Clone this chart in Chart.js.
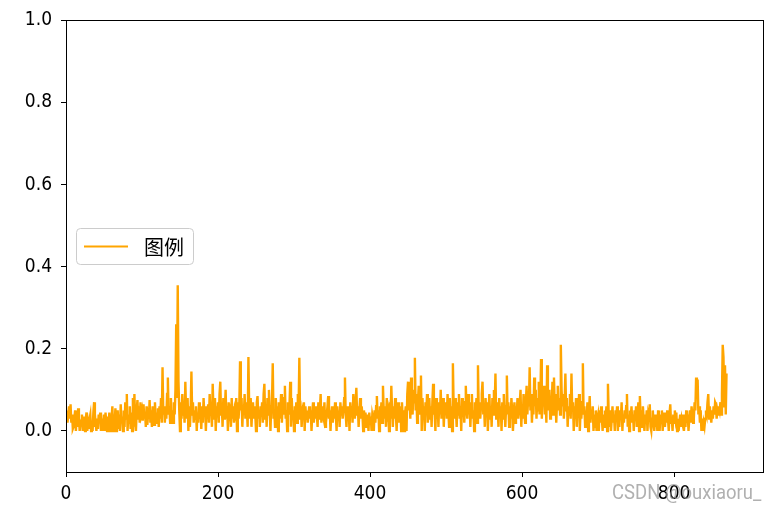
<!DOCTYPE html>
<html>
<head>
<meta charset="utf-8">
<script src="https://cdn.jsdelivr.net/npm/chart.js@4.4.1/dist/chart.umd.min.js"></script>
<style>
    body { margin: 0; background: #fff; }
    #wrap { position: relative; width: 782px; height: 512px; }
    #mark {
        position: absolute; left: 612px; top: 480px;
        font: 21px Roboto, sans-serif;
        color: rgba(150, 150, 150, 0.75); white-space: nowrap;
        transform: scaleX(0.88); transform-origin: left top;
    }
</style>
</head>
<body>
<div id="wrap">
    <canvas id="chart"></canvas>
    <div id="mark">CSDN @ouxiaoru_</div>
</div>
<script>
// series (index = x)
var legendLabel = '图例';
var lineColor = '#FFA500';
var xTicks = [0, 200, 400, 600, 800];
var yTicks = [0, 0.2, 0.4, 0.6, 0.8, 1.0];
var values = [
    .03,.05,.02,.04,.06,.03,.065,.02,.04,.005,
    .01,.03,.05,.00,.04,.01,.055,.03,.00,.02,
    .015,.04,.00,.035,.02,.00,.03,.045,.00,.02,
    .005,.03,.04,.00,.02,.00,.045,.07,.01,.02,
    .00,.03,.005,.04,.02,.045,.00,.03,.00,.02,
    .04,.00,.045,.02,.00,.035,.01,.045,.00,.005,
    .03,.06,.00,.04,.02,.055,.00,.03,.05,.005,
    .04,.00,.065,.02,.035,.00,.05,.01,.07,.03,
    .09,.00,.04,.02,.06,.005,.045,.00,.08,.01,
    .09,.02,.00,.05,.075,.03,.06,.02,.07,.04,
    .05,.025,.065,.03,.045,.01,.06,.015,.04,.03,
    .075,.02,.05,.01,.06,.035,.015,.07,.03,.045,
    .02,.055,.01,.06,.03,.08,.02,.155,.04,.06,
    .02,.05,.03,.09,.13,.04,.06,.02,.08,.03,
    .05,.02,.07,.04,.10,.26,.08,.355,.12,.05,
    .00,.07,.03,.09,.04,.06,.02,.12,.05,.03,
    .08,.00,.06,.01,.05,.145,.04,.07,.02,.05,
    .03,.06,.00,.045,.02,.07,.03,.05,.005,.06,
    .02,.08,.04,.06,.00,.05,.03,.065,.02,.09,
    .04,.06,.01,.115,.05,.03,.08,.00,.06,.04,
    .07,.02,.09,.12,.04,.06,.01,.08,.03,.05,
    .10,.03,.06,.00,.07,.04,.05,.01,.08,.03,
    .06,.02,.05,.04,.08,.00,.07,.03,.06,.17,
    .05,.08,.01,.06,.04,.09,.03,.07,.05,.01,
    .18,.06,.03,.08,.01,.05,.07,.03,.06,.04,
    .00,.07,.085,.03,.05,.01,.06,.04,.07,.02,
    .09,.115,.03,.06,.01,.08,.04,.10,.05,.00,
    .06,.07,.165,.03,.05,.01,.08,.04,.06,.00,
    .07,.03,.05,.09,.02,.06,.04,.08,.11,.03,
    .05,.00,.07,.04,.06,.12,.01,.08,.03,.05,
    .00,.06,.04,.07,.02,.09,.05,.178,.03,.06,
    .01,.05,.04,.07,.00,.06,.03,.05,.02,.04,
    .06,.03,.05,.00,.04,.07,.02,.05,.03,.06,
    .04,.01,.07,.03,.05,.09,.02,.06,.04,.03,
    .07,.01,.05,.04,.06,.085,.03,.05,.00,.04,
    .06,.02,.05,.03,.07,.04,.00,.06,.03,.05,
    .01,.07,.04,.06,.03,.05,.08,.13,.04,.01,
    .06,.03,.05,.00,.07,.04,.06,.02,.09,.05,
    .03,.07,.105,.04,.06,.01,.05,.08,.03,.06,
    .04,.00,.05,.03,.045,.01,.04,.03,.00,.045,
    .02,.035,.00,.04,.03,.00,.05,.02,.06,.085,
    .03,.05,.00,.06,.04,.07,.02,.11,.05,.03,
    .06,.01,.08,.04,.05,.00,.07,.03,.11,.05,
    .01,.06,.03,.08,.04,.00,.05,.07,.02,.04,
    .06,.00,.07,.03,.05,.00,.04,.06,.00,.09,
    .12,.05,.08,.03,.13,.06,.04,.10,.07,.178,
    .05,.09,.02,.07,.11,.04,.06,.135,.00,.08,
    .03,.06,.00,.07,.04,.09,.02,.05,.08,.03,
    .06,.01,.07,.115,.04,.05,.00,.08,.03,.06,
    .01,.07,.04,.10,.03,.05,.08,.01,.06,.04,
    .07,.03,.09,.05,.01,.08,.04,.06,.00,.165,
    .06,.03,.08,.05,.01,.07,.04,.09,.03,.06,
    .00,.08,.04,.06,.02,.07,.11,.05,.03,.09,
    .04,.07,.01,.06,.09,.03,.05,.00,.07,.04,
    .08,.02,.16,.05,.07,.03,.06,.09,.12,.04,
    .06,.01,.08,.04,.07,.00,.05,.09,.03,.06,
    .01,.08,.04,.10,.06,.14,.03,.07,.05,.01,
    .08,.04,.06,.00,.07,.03,.09,.05,.01,.06,
    .135,.04,.07,.01,.06,.03,.08,.05,.00,.04,
    .07,.02,.06,.04,.08,.03,.05,.07,.10,.01,
    .06,.03,.09,.05,.02,.07,.11,.04,.08,.06,
    .155,.05,.09,.02,.07,.04,.13,.06,.10,.03,
    .08,.05,.12,.04,.07,.175,.03,.09,.06,.11,
    .04,.08,.02,.16,.07,.05,.10,.03,.08,.06,
    .12,.04,.13,.06,.09,.02,.07,.11,.05,.08,
    .04,.21,.10,.06,.09,.03,.07,.14,.05,.08,
    .01,.06,.04,.09,.03,.14,.05,.07,.00,.06,
    .03,.08,.01,.06,.04,.09,.00,.05,.03,.07,
    .165,.04,.06,.01,.05,.03,.07,.00,.04,.085,
    .02,.05,.03,.06,.00,.04,.01,.05,.00,.03,
    .04,.00,.05,.02,.06,.03,.00,.04,.01,.05,
    .03,.06,.00,.115,.04,.01,.05,.00,.03,.06,
    .02,.04,.00,.05,.03,.06,.00,.04,.01,.05,
    .03,.07,.00,.04,.02,.05,.03,.06,.09,.01,
    .04,.00,.05,.03,.06,.02,.04,.00,.05,.03,
    .06,.01,.04,.07,.00,.085,.03,.05,.01,.06,
    .03,.00,.04,.02,.05,.00,.04,.03,.065,.01,
    .00,.03,.05,.02,.00,.04,.01,.03,.00,.05,
    .03,.00,.04,.02,.05,.00,.03,.045,.01,.04,
    .02,.05,.03,.00,.04,.065,.02,.03,.00,.04,
    .02,.05,.03,.045,.00,.03,.00,.02,.04,.01,
    .03,.02,.04,.00,.03,.01,.05,.02,.04,.00,
    .03,.05,.02,.06,.04,.02,.03,.07,.05,.13,
    .08,.125,.04,.06,.02,.05,.00,.03,.00,.02,
    .01,.03,.05,.04,.07,.09,.03,.06,.04,.02,
    .05,.03,.06,.04,.07,.065,.03,.05,.04,.06,
    .05,.07,.04,.09,.21,.18,.06,.16,.04,.14
];

var tickFont = { family: '"Liberation Sans Narrow", "DejaVu Sans Condensed", sans-serif', size: 19 };

// matplotlib style frame round the plot area
var framePlugin = {
    id: 'frame',
    afterDraw: function(chart) {
        var a = chart.chartArea, ctx = chart.ctx;
        ctx.save();
        ctx.strokeStyle = '#000';
        ctx.lineWidth = 1;
        ctx.strokeRect(Math.round(a.left) + 0.5, Math.round(a.top) + 0.5,
            Math.round(a.right - a.left), Math.round(a.bottom - a.top));
        ctx.restore();
    }
};

// legend at "center left" inside the axes
var legendPlugin = {
    id: 'boxLegend',
    afterDraw: function(chart) {
        var a = chart.chartArea, ctx = chart.ctx;
        var ds = chart.data.datasets[0];
        var x = a.left + 10, h = 36, w = 117;
        var y = Math.round((a.top + a.bottom) / 2 - h / 2);
        ctx.save();
        ctx.fillStyle = 'rgba(255,255,255,0.8)';
        ctx.strokeStyle = '#cccccc';
        ctx.lineWidth = 1;
        ctx.beginPath();
        ctx.roundRect(x + 0.5, y + 0.5, w, h, 4);
        ctx.fill();
        ctx.stroke();
        ctx.strokeStyle = ds.borderColor;
        ctx.lineWidth = 2.2;
        ctx.beginPath();
        ctx.moveTo(x + 8, y + h / 2 + 0.5);
        ctx.lineTo(x + 52, y + h / 2 + 0.5);
        ctx.stroke();
        ctx.fillStyle = '#000';
        ctx.font = '20px "Noto Sans CJK SC", sans-serif';
        ctx.textBaseline = 'middle';
        ctx.fillText(ds.label, x + 68, y + h / 2 + 1);
        ctx.restore();
    }
};

new Chart(document.getElementById('chart'), {
    type: 'line',
    data: {
        datasets: [{
            label: legendLabel,
            data: values.map(function(v, i) { return { x: i, y: v }; }),
            borderColor: lineColor,
            borderWidth: 2.4,
            pointRadius: 0,
            tension: 0
        }]
    },
    options: {
        responsive: true,
        maintainAspectRatio: false,
        animation: false,
        layout: { padding: { top: 18, right: 19, left: 0, bottom: 0 } },
        plugins: {
            legend: { display: false },
            tooltip: { enabled: false }
        },
        scales: {
            x: {
                type: 'linear',
                min: 0,
                max: 917,
                afterBuildTicks: function(axis) {
                    axis.ticks = xTicks.map(function(v) { return { value: v }; });
                },
                afterFit: function(axis) { axis.height = 40; },
                grid: { drawOnChartArea: false, drawTicks: true, tickLength: 5, color: '#000' },
                border: { display: true, color: '#000' },
                ticks: { color: '#000', font: tickFont, padding: 6, maxRotation: 0 }
            },
            y: {
                type: 'linear',
                min: -0.1,
                max: 1.0,
                afterBuildTicks: function(axis) {
                    axis.ticks = yTicks.map(function(v) { return { value: v }; });
                },
                afterFit: function(axis) { axis.width = 66; },
                grid: { drawOnChartArea: false, drawTicks: true, tickLength: 5, color: '#000' },
                border: { display: true, color: '#000' },
                ticks: {
                    color: '#000', font: tickFont, padding: 9,
                    callback: function(v) { return v.toFixed(1); }
                }
            }
        }
    },
    plugins: [framePlugin, legendPlugin]
});
</script>
</body>
</html>
